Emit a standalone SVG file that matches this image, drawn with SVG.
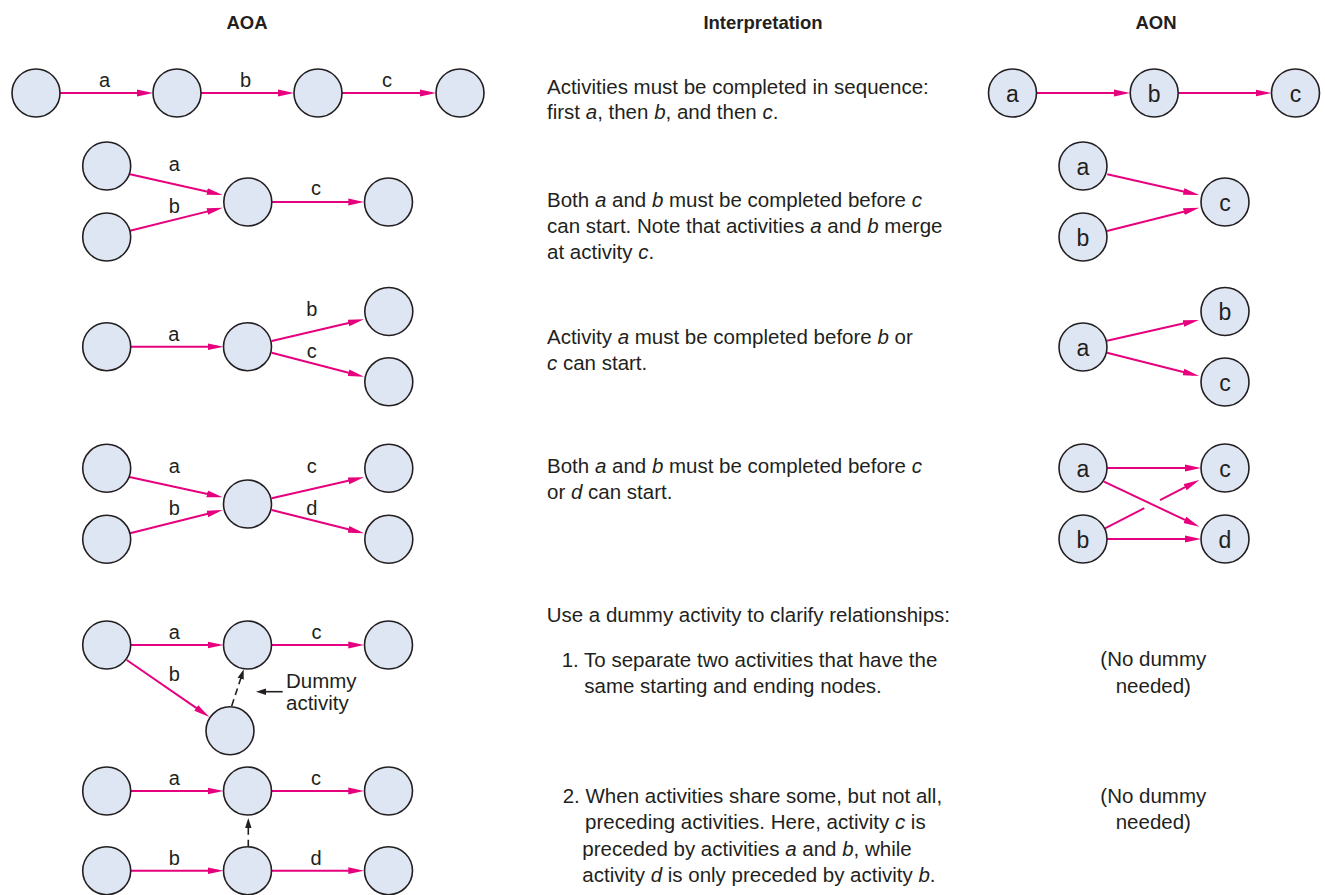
<svg xmlns="http://www.w3.org/2000/svg" width="1325" height="895" viewBox="0 0 1325 895">
<style>
.n{fill:#dfe6f3;stroke:#231f20;stroke-width:1.6}
.e{stroke:#e6007e;stroke-width:2;fill:none;marker-end:url(#mh)}
.e0{stroke:#e6007e;stroke-width:2;fill:none}
.d{stroke:#231f20;stroke-width:1.6;fill:none;marker-end:url(#bh)}
text{font-family:"Liberation Sans",Arial,sans-serif;fill:#231f20}
.h{font-size:18.5px;font-weight:bold;text-anchor:middle}
.l{font-size:20px;text-anchor:middle}
.nl{font-size:23px;text-anchor:middle}
.t{font-size:20.5px}
.m{font-size:20.5px;text-anchor:middle}
.i{font-style:italic}
</style>
<defs>
<marker id="mh" markerUnits="userSpaceOnUse" markerWidth="16" markerHeight="8" viewBox="0 0 16 8" refX="10" refY="4" orient="auto"><path d="M0,0.6 L16,4 L0,7.4 Z" fill="#e6007e"/></marker>
<marker id="bh" markerUnits="userSpaceOnUse" markerWidth="10" markerHeight="8" viewBox="0 0 10 8" refX="6" refY="4" orient="auto"><path d="M0,0.8 L10,4 L0,7.2 Z" fill="#231f20"/></marker>
</defs>

<g id="headers">
<text class="h" x="247" y="29">AOA</text>
<text class="h" x="763" y="29">Interpretation</text>
<text class="h" x="1156" y="29">AON</text>
</g>

<g id="connectors">
<!-- AOA row 1 -->
<line class="e" x1="60" y1="93" x2="147" y2="93"/>
<line class="e" x1="201" y1="93" x2="288" y2="93"/>
<line class="e" x1="342" y1="93" x2="430" y2="93"/>
<!-- AOA row 2 -->
<line class="e" x1="130" y1="174.3" x2="216.8" y2="193.7"/>
<line class="e" x1="130" y1="230.7" x2="216.9" y2="209.1"/>
<line class="e" x1="272" y1="202" x2="358.3" y2="202"/>
<!-- AOA row 3 -->
<line class="e" x1="130.7" y1="346.7" x2="217.5" y2="346.7"/>
<line class="e" x1="271.7" y1="341" x2="358.2" y2="320.7"/>
<line class="e" x1="271.7" y1="352.7" x2="358.2" y2="375.2"/>
<!-- AOA row 4 -->
<line class="e" x1="128.3" y1="476.7" x2="216.8" y2="496"/>
<line class="e" x1="130" y1="533.3" x2="216.9" y2="511.5"/>
<line class="e" x1="271.7" y1="498.3" x2="358.2" y2="478.6"/>
<line class="e" x1="271.7" y1="510" x2="358.2" y2="531.8"/>
<!-- AOA row 5 -->
<line class="e" x1="130.7" y1="645" x2="217.5" y2="645"/>
<line class="e" x1="271.7" y1="645" x2="358.3" y2="645"/>
<line class="e" x1="126.7" y1="660" x2="204.5" y2="713.6"/>
<line class="d" x1="231.7" y1="706" x2="242.5" y2="673.1" stroke-dasharray="7,4.5"/>
<line class="d" x1="282.7" y1="691.7" x2="260" y2="691.7"/>
<!-- AOA row 6 -->
<line class="e" x1="130.7" y1="791" x2="217.5" y2="791"/>
<line class="e" x1="271.7" y1="791" x2="358.3" y2="791"/>
<line class="e" x1="130.7" y1="870.7" x2="217.5" y2="870.7"/>
<line class="e" x1="271.7" y1="870.7" x2="358.3" y2="870.7"/>
<line class="d" x1="248.3" y1="846.7" x2="248.3" y2="822" stroke-dasharray="7,5"/>
<!-- AON row 1 -->
<line class="e" x1="1036.7" y1="93" x2="1124" y2="93"/>
<line class="e" x1="1178.3" y1="93" x2="1265.7" y2="93"/>
<!-- AON row 2 -->
<line class="e" x1="1107.3" y1="174.3" x2="1193.4" y2="193.7"/>
<line class="e" x1="1107" y1="231" x2="1193.5" y2="209.2"/>
<!-- AON row 3 -->
<line class="e" x1="1107" y1="340.7" x2="1193.1" y2="321.3"/>
<line class="e" x1="1107" y1="352.7" x2="1193.2" y2="374.5"/>
<!-- AON row 4 -->
<line class="e" x1="1107" y1="468" x2="1195" y2="468"/>
<line class="e" x1="1107" y1="539" x2="1195" y2="539"/>
<line class="e" x1="1104" y1="481.7" x2="1193.9" y2="524.1"/>
<line class="e0" x1="1105" y1="528.3" x2="1144.3" y2="508.2"/>
<line class="e" x1="1160" y1="500.1" x2="1194" y2="482.7"/>
</g>

<g id="aoa-row1">
<circle class="n" cx="36" cy="93" r="24"/>
<circle class="n" cx="177" cy="93" r="24"/>
<circle class="n" cx="318" cy="93" r="24"/>
<circle class="n" cx="460" cy="93" r="24"/>
<text class="l" x="104.5" y="87">a</text>
<text class="l" x="245.5" y="87">b</text>
<text class="l" x="387" y="87">c</text>
</g>

<g id="aoa-row2">
<circle class="n" cx="106.7" cy="166" r="24"/>
<circle class="n" cx="106.7" cy="237" r="24"/>
<circle class="n" cx="247.8" cy="202" r="24"/>
<circle class="n" cx="388.5" cy="202" r="24"/>
<text class="l" x="174.3" y="171">a</text>
<text class="l" x="174.3" y="213">b</text>
<text class="l" x="316" y="195">c</text>
</g>

<g id="aoa-row3">
<circle class="n" cx="106.7" cy="346.7" r="24"/>
<circle class="n" cx="247.5" cy="346.7" r="24"/>
<circle class="n" cx="388.8" cy="311.5" r="24"/>
<circle class="n" cx="388.8" cy="381.8" r="24"/>
<text class="l" x="173.7" y="341">a</text>
<text class="l" x="311.7" y="315.7">b</text>
<text class="l" x="311.7" y="357.7">c</text>
</g>

<g id="aoa-row4">
<circle class="n" cx="106.7" cy="468.3" r="24"/>
<circle class="n" cx="106.7" cy="539.3" r="24"/>
<circle class="n" cx="247.5" cy="504" r="24"/>
<circle class="n" cx="388.8" cy="468.3" r="24"/>
<circle class="n" cx="388.8" cy="539.3" r="24"/>
<text class="l" x="174.3" y="473.3">a</text>
<text class="l" x="174.3" y="515">b</text>
<text class="l" x="311.7" y="473.3">c</text>
<text class="l" x="311.7" y="515">d</text>
</g>

<g id="aoa-row5">
<circle class="n" cx="106.7" cy="645" r="24"/>
<circle class="n" cx="247.5" cy="645" r="24"/>
<circle class="n" cx="388.5" cy="645" r="24"/>
<circle class="n" cx="230" cy="730.8" r="24"/>
<text class="l" x="174.3" y="639">a</text>
<text class="l" x="316.5" y="639">c</text>
<text class="l" x="174.3" y="681">b</text>
<text class="t" x="286" y="688.3">Dummy</text>
<text class="t" x="286" y="709.5">activity</text>
</g>

<g id="aoa-row6">
<circle class="n" cx="106.7" cy="791" r="24"/>
<circle class="n" cx="247.5" cy="791" r="24"/>
<circle class="n" cx="388.5" cy="791" r="24"/>
<circle class="n" cx="106.7" cy="870.7" r="24"/>
<circle class="n" cx="247.5" cy="870.7" r="24"/>
<circle class="n" cx="388.5" cy="870.7" r="24"/>
<text class="l" x="174.3" y="785">a</text>
<text class="l" x="316" y="785">c</text>
<text class="l" x="174.3" y="865">b</text>
<text class="l" x="316" y="865">d</text>
</g>

<g id="interpretation">
<text class="t" x="547" y="94">Activities must be completed in sequence:</text>
<text class="t" x="547" y="119.3">first <tspan class="i">a</tspan>, then <tspan class="i">b</tspan>, and then <tspan class="i">c</tspan>.</text>
<text class="t" x="547" y="206.7">Both <tspan class="i">a</tspan> and <tspan class="i">b</tspan> must be completed before <tspan class="i">c</tspan></text>
<text class="t" x="547" y="232.7">can start. Note that activities <tspan class="i">a</tspan> and <tspan class="i">b</tspan> merge</text>
<text class="t" x="547" y="258.7">at activity <tspan class="i">c</tspan>.</text>
<text class="t" x="547" y="344">Activity <tspan class="i">a</tspan> must be completed before <tspan class="i">b</tspan> or</text>
<text class="t" x="547" y="369.5"><tspan class="i">c</tspan> can start.</text>
<text class="t" x="547" y="473">Both <tspan class="i">a</tspan> and <tspan class="i">b</tspan> must be completed before <tspan class="i">c</tspan></text>
<text class="t" x="547" y="498.5">or <tspan class="i">d</tspan> can start.</text>
<text class="t" x="546.7" y="621.7">Use a dummy activity to clarify relationships:</text>
<text class="t" x="561.7" y="667.3">1. To separate two activities that have the</text>
<text class="t" x="584.3" y="693.3">same starting and ending nodes.</text>
<text class="t" x="562.7" y="803.3">2. When activities share some, but not all,</text>
<text class="t" x="585" y="829.3">preceding activities. Here, activity <tspan class="i">c</tspan> is</text>
<text class="t" x="582.3" y="856">preceded by activities <tspan class="i">a</tspan> and <tspan class="i">b</tspan>, while</text>
<text class="t" x="582.3" y="881.7">activity <tspan class="i">d</tspan> is only preceded by activity <tspan class="i">b</tspan>.</text>
</g>

<g id="aon-row1">
<circle class="n" cx="1012.5" cy="93" r="24"/>
<circle class="n" cx="1154.2" cy="93" r="24"/>
<circle class="n" cx="1295.5" cy="93" r="24"/>
<text class="nl" x="1012.5" y="101.5">a</text>
<text class="nl" x="1154.2" y="101.5">b</text>
<text class="nl" x="1295.5" y="101.5">c</text>
</g>

<g id="aon-row2">
<circle class="n" cx="1083" cy="166" r="24"/>
<circle class="n" cx="1083" cy="237" r="24"/>
<circle class="n" cx="1225" cy="202" r="24"/>
<text class="nl" x="1083" y="174.5">a</text>
<text class="nl" x="1083" y="245.5">b</text>
<text class="nl" x="1225" y="210.5">c</text>
</g>

<g id="aon-row3">
<circle class="n" cx="1225" cy="311.5" r="24"/>
<circle class="n" cx="1083" cy="347" r="24"/>
<circle class="n" cx="1225" cy="382" r="24"/>
<text class="nl" x="1225" y="320">b</text>
<text class="nl" x="1083" y="355.5">a</text>
<text class="nl" x="1225" y="390.5">c</text>
</g>

<g id="aon-row4">
<circle class="n" cx="1083" cy="468" r="24"/>
<circle class="n" cx="1225" cy="468" r="24"/>
<circle class="n" cx="1083" cy="539" r="24"/>
<circle class="n" cx="1225" cy="539" r="24"/>
<text class="nl" x="1083" y="476.5">a</text>
<text class="nl" x="1225" y="476.5">c</text>
<text class="nl" x="1083" y="547.5">b</text>
<text class="nl" x="1225" y="547.5">d</text>
</g>

<g id="aon-dummy">
<text class="m" x="1153.3" y="665.7">(No dummy</text>
<text class="m" x="1153.3" y="692.7">needed)</text>
<text class="m" x="1153.3" y="803.3">(No dummy</text>
<text class="m" x="1153.3" y="829.3">needed)</text>
</g>
</svg>
